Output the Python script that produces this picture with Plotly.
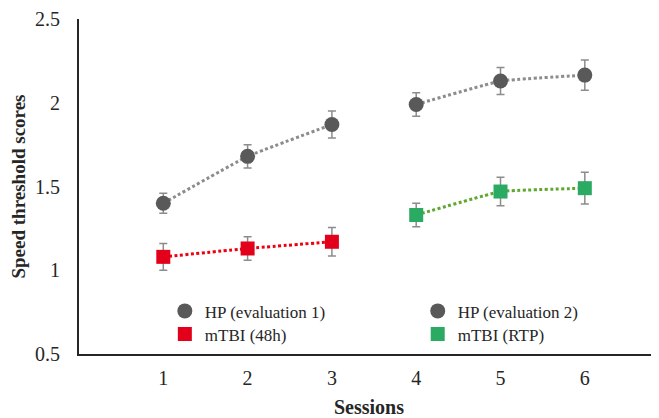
import plotly.graph_objects as go

# Data
sessions_a = [1, 2, 3]
sessions_b = [4, 5, 6]
hp_eval1 = [1.40, 1.68, 1.87]
hp_eval1_err = [0.06, 0.07, 0.08]
hp_eval2 = [1.99, 2.13, 2.165]
hp_eval2_err = [0.07, 0.08, 0.09]
mtbi_48h = [1.08, 1.13, 1.17]
mtbi_48h_err = [0.08, 0.07, 0.085]
mtbi_rtp = [1.33, 1.47, 1.49]
mtbi_rtp_err = [0.07, 0.085, 0.095]

x_ticks = [1, 2, 3, 4, 5, 6]
y_ticks = [0.5, 1, 1.5, 2, 2.5]
y_ticklabels = ["0.5", "1", "1.5", "2", "2.5"]

GRAY_M = "#595959"
GRAY_L = "#8c8c8c"
RED_M = "#e2001a"
RED_L = "#ee0010"
GREEN_M = "#2aaa62"
GREEN_L = "#5fa82e"
ERR = "#8c8c8c"
FONT = "Liberation Serif"
TXT = "#262626"

fig = go.Figure()

def trend(x, y, color):
    fig.add_trace(go.Scatter(
        x=x, y=y, mode="lines",
        line=dict(color=color, width=3, dash="3px,2.5px", shape="spline", smoothing=0.25),
        showlegend=False, hoverinfo="skip"))

def pts(x, y, err, name, color, symbol, size, legend):
    fig.add_trace(go.Scatter(
        x=x, y=y, mode="markers", name=name, legend=legend,
        marker=dict(color=color, symbol=symbol, size=size, line=dict(width=0)),
        error_y=dict(type="data", array=err, visible=True, color=ERR, thickness=1.5, width=4)))

trend(sessions_a, hp_eval1, GRAY_L)
trend(sessions_b, hp_eval2, GRAY_L)
trend(sessions_a, mtbi_48h, RED_L)
trend(sessions_b, mtbi_rtp, GREEN_L)

pts(sessions_a, hp_eval1, hp_eval1_err, "HP (evaluation 1)", GRAY_M, "circle", 15, "legend")
pts(sessions_b, hp_eval2, hp_eval2_err, "HP (evaluation 2)", GRAY_M, "circle", 15, "legend2")
pts(sessions_a, mtbi_48h, mtbi_48h_err, "mTBI (48h)", RED_M, "square", 14, "legend3")
pts(sessions_b, mtbi_rtp, mtbi_rtp_err, "mTBI (RTP)", GREEN_M, "square", 14, "legend4")

leg_common = dict(
    orientation="v", yanchor="top", xanchor="left",
    font=dict(family=FONT, size=17, color=TXT),
    bgcolor="rgba(0,0,0,0)", itemwidth=30, tracegroupgap=0,
)

COL1, COL2 = 0.148, 0.584
ROW1, ROW2 = 0.181, 0.112

# The page body has an 8px default margin, so the figure is sized to fit the window.
fig.update_layout(
    width=651, height=410,
    margin=dict(l=71, r=0, t=11, b=64),
    paper_bgcolor="white", plot_bgcolor="white",
    font=dict(family=FONT, color=TXT, size=17),
    xaxis=dict(
        range=[0, 6.88], tickvals=x_ticks, ticktext=[str(v) for v in x_ticks],
        showgrid=False, zeroline=False, showline=True, linecolor=TXT, linewidth=2,
        ticks="", ticklabelstandoff=5, automargin=False,
        tickfont=dict(family=FONT, size=20, color=TXT),
        title=dict(text="<b>Sessions</b>", font=dict(family=FONT, size=20, color=TXT), standoff=16),
    ),
    yaxis=dict(
        range=[0.5, 2.5], tickvals=y_ticks, ticktext=y_ticklabels,
        showgrid=False, zeroline=False, showline=True, linecolor=TXT, linewidth=2,
        ticks="", ticklabelstandoff=13, automargin=False,
        tickfont=dict(family=FONT, size=20, color=TXT),
        title=dict(text="<b>Speed threshold scores</b>", font=dict(family=FONT, size=19, color=TXT), standoff=5),
    ),
    legend=dict(x=COL1, y=ROW1, **leg_common),
    legend2=dict(x=COL2, y=ROW1, **leg_common),
    legend3=dict(x=COL1, y=ROW2, **leg_common),
    legend4=dict(x=COL2, y=ROW2, **leg_common),
)

fig.write_html("out.html")
